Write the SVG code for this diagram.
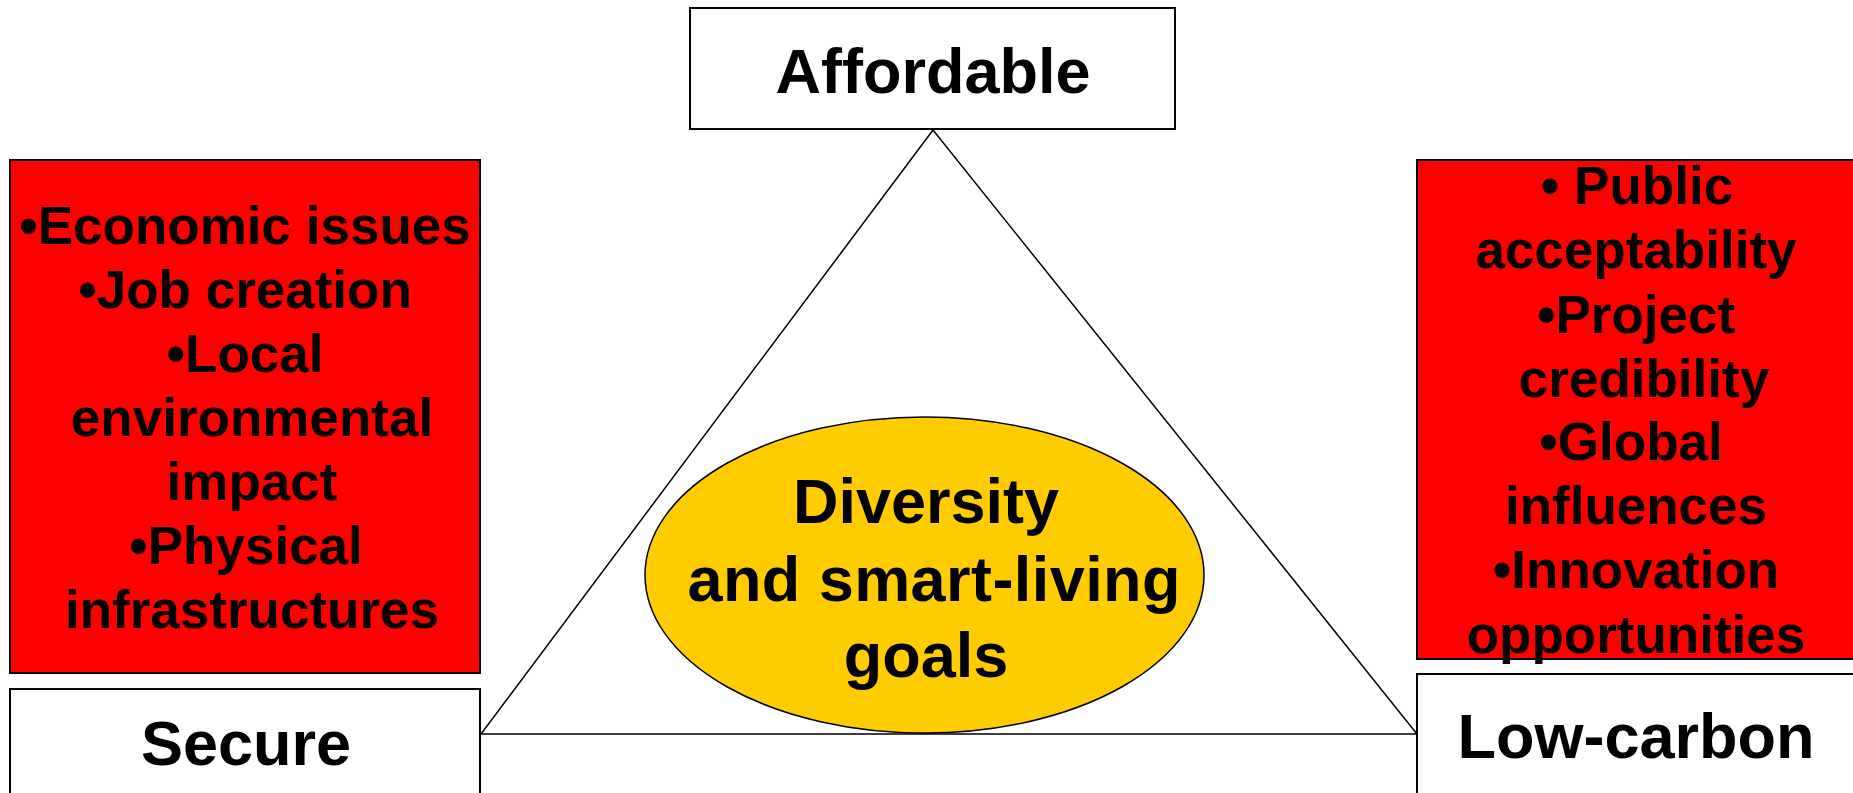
<svg xmlns="http://www.w3.org/2000/svg" width="1853" height="793" viewBox="0 0 1853 793">
<style>
.box{fill:#fff;stroke:#000;stroke-width:2}
.red{fill:#ff0000;stroke:#000;stroke-width:2}
.t{font-family:"Liberation Sans",Arial,sans-serif;font-weight:bold;fill:#000;text-anchor:middle}
.big{font-size:63px}
.mid{font-size:53px}
.line{fill:none;stroke:#000;stroke-width:1.5}
</style>
<rect width="1853" height="793" fill="#fff"/>
<g id="connectors">
<polygon class="line" points="933,130 481,734 1417,734"/>
</g>
<g id="affordable">
<rect class="box" x="690" y="8" width="485" height="121"/>
<text class="t big" x="933" y="93">Affordable</text>
</g>
<g id="secure">
<rect class="box" x="10" y="689" width="470" height="120"/>
<text class="t big" x="246" y="765">Secure</text>
</g>
<g id="lowcarbon">
<rect class="box" x="1417" y="674" width="450" height="130"/>
<text class="t big" x="1636" y="758">Low-carbon</text>
</g>
<g id="left-issues">
<rect class="red" x="10" y="160" width="470" height="513"/>
<text class="t mid" x="245" y="244">•Economic issues</text>
<text class="t mid" x="245" y="308">•Job creation</text>
<text class="t mid" x="245" y="372">•Local</text>
<text class="t mid" x="252" y="436">environmental</text>
<text class="t mid" x="252" y="500">impact</text>
<text class="t mid" x="246" y="564">•Physical</text>
<text class="t mid" x="252" y="628">infrastructures</text>
</g>
<g id="right-issues">
<rect class="red" x="1417" y="160" width="450" height="499"/>
<text class="t mid" x="1637" y="204">• Public</text>
<text class="t mid" x="1636" y="268">acceptability</text>
<text class="t mid" x="1636" y="333">•Project</text>
<text class="t mid" x="1644" y="397">credibility</text>
<text class="t mid" x="1631" y="460">•Global</text>
<text class="t mid" x="1636" y="524">influences</text>
<text class="t mid" x="1636" y="588">•Innovation</text>
<text class="t mid" x="1636" y="653">opportunities</text>
</g>
<g id="goals">
<ellipse cx="924.5" cy="575" rx="279.5" ry="158" fill="#ffcc00" stroke="#000" stroke-width="1.5"/>
<text class="t big" x="926" y="523">Diversity</text>
<text class="t big" x="934" y="601" textLength="493" lengthAdjust="spacing">and smart-living</text>
<text class="t big" x="926" y="677">goals</text>
</g>
</svg>
